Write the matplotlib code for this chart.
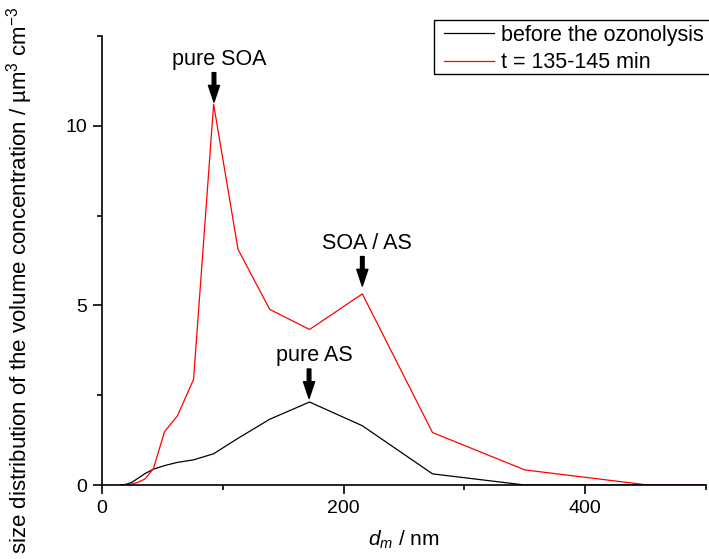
import matplotlib
matplotlib.use('Agg')
from matplotlib import pyplot as plt
from matplotlib.patches import Rectangle

plt.rcParams['font.family'] = ['Liberation Sans', 'DejaVu Sans']
plt.rcParams['mathtext.fontset'] = 'custom'
plt.rcParams['mathtext.rm'] = 'Liberation Sans'
plt.rcParams['mathtext.it'] = 'Liberation Sans:italic'

# mobility diameter bins / nm
d_m = [15, 20, 25, 29.5, 35.7, 42.6, 51.7, 62.5, 75.8, 92.4, 112.6,
       138.8, 171.8, 215.5, 273.6, 350, 452, 500]
before = [0, 0.02, 0.08, 0.18, 0.32, 0.44, 0.54, 0.63, 0.70, 0.87, 1.30,
          1.83, 2.31, 1.65, 0.31, 0, 0, 0]
after = [0, 0.01, 0.03, 0.07, 0.17, 0.46, 1.48, 1.93, 2.94, 10.6, 6.56,
         4.89, 4.33, 5.32, 1.46, 0.42, 0, 0]
labels = ['before the ozonolysis', 't = 135-145 min']

# annotations: text, (tip x, tip y)
notes = [('pure SOA', 92.7, 10.66), ('SOA / AS', 215.5, 5.54), ('pure AS', 171.4, 2.41)]

fig = plt.figure(figsize=(7.09, 5.59), dpi=100)
ax = fig.add_axes([102/709, 1-485/559, (706-102)/709, (485-36)/559])

l1, = ax.plot(d_m, before, color='k', lw=0.9)
l2, = ax.plot(d_m, after, color='#ff0000', lw=0.9)

ax.set_xlim(0, 500)
ax.set_ylim(0, 12.5)
ax.set_xticks([0, 200, 400])
ax.set_xticks([100, 300, 500], minor=True)
ax.set_yticks([0, 5, 10])
ax.set_yticks([2.5, 7.5, 12.5], minor=True)
for s in ['top', 'right']:
    ax.spines[s].set_visible(False)
for s in ['left', 'bottom']:
    ax.spines[s].set_linewidth(1.2)
ax.tick_params(which='major', direction='out', length=6.5, width=1.2,
               labelsize=14, pad=4)
ax.tick_params(which='minor', direction='out', length=3.6, width=1.2)
for sp in ax.spines.values():
    sp.set_clip_on(False)

for txt, x, y in notes:
    ax.annotate('', xy=(x, y), xytext=(x, y + 0.82),
                arrowprops=dict(width=2.6, headwidth=8, headlength=12,
                                color='k', shrink=0))
    ax.text(x + 4, y + 1.19, txt, ha='center', va='center', fontsize=15.5)

ax.set_xlabel('$d_m$ / nm', fontsize=15, labelpad=9)
fig.text(20/709, 1-280/559,
         'size distribution of the volume concentration / µm$^3$ cm$^{-3}$',
         rotation=90, ha='center', va='center', fontsize=16)

# legend box runs off the right edge, as in the original
fig.patches.append(Rectangle((434/709, 1-74/559), 290/709, 54/559,
                             transform=fig.transFigure, fill=False,
                             ec='k', lw=1.0))
leg = fig.legend([l1, l2], labels, loc='upper left',
                 bbox_to_anchor=(444/709, 1-25/559), fontsize=15.5,
                 frameon=False, handlelength=2.3, handletextpad=0.35,
                 borderpad=0, labelspacing=0.3, borderaxespad=0)

fig.savefig('out.png', dpi=100)
